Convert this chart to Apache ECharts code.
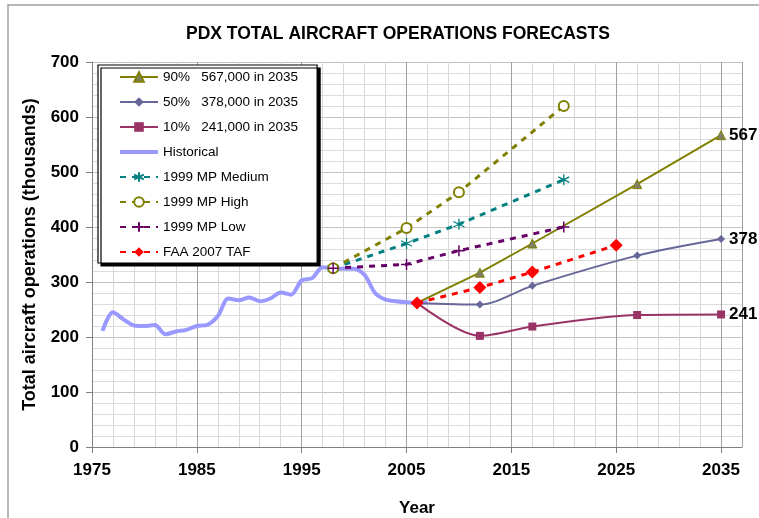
<!DOCTYPE html>
<html>
<head>
<meta charset="utf-8">
<script src="https://cdn.jsdelivr.net/npm/echarts@6/dist/echarts.min.js"></script>
<style>
  html, body { margin: 0; padding: 0; background: #fff; }
  #chart { width: 759px; height: 518px; }
</style>
</head>
<body>
<div id="chart"></div>
<script>
// historical (thousands)
const histYears = [1976,1977,1978,1979,1980,1981,1982,1983,1984,1985,1986,1987,1988,1989,1990,1991,
  1992,1993,1994,1995,1996,1997,1998,1999,2000,2001,2002,2003,2004,2005,2006,2007];
const histOps = [211,245,232,221,220,222,205,210,213,220,222,238,270,267,272,265,
  270,281,277,303,307,327,325,324,324,313,280,268,265,263,262,263];

// 2006 forecasts
const fcYears = [2006, 2012, 2017, 2027, 2035];
const fc90 = [262, 317, 370, 478, 567];
const fc50 = [262, 259, 293, 348, 378];
const fc10 = [262, 202, 219, 240, 241];

// 1999 master plan
const mpYears = [1998, 2005, 2010, 2020];
const mpMedium = [325, 370, 405, 486];
const mpHigh = [325, 398, 463, 620];
const mpLow = [325, 332, 357, 400];

// FAA TAF
const tafYears = [2006, 2012, 2017, 2025];
const tafOps = [262, 290, 318, 367];

const font = "'Liberation Sans', Arial, sans-serif";

function pairs(xs, ys, hideFirst) {
  return xs.map((x, i) => (hideFirst && i === 0) ? { value: [x, ys[i]], symbol: 'none' } : [x, ys[i]]);
}

const plusPath = 'path://M0,5 L10,5 M5,0 L5,10';
const starPath = 'path://M5,0 L5,10 M0.7,2.5 L9.3,7.5 M0.7,7.5 L9.3,2.5';
const barIcon = 'path://M0,0 H38 V4 H0 Z';

let myChart = echarts.init(document.getElementById('chart'));

var option = {
  animation: false,
  title: {
    text: 'PDX TOTAL AIRCRAFT OPERATIONS FORECASTS',
    left: 181,
    top: 20,
    textStyle: { fontFamily: font, fontSize: 17.5, fontWeight: 'bold', color: '#000' }
  },
  legend: {
    orient: 'vertical',
    left: 98,
    top: 65,
    padding: [5, 19, 4, 21],
    itemWidth: 38,
    itemHeight: 12,
    itemGap: 11,
    backgroundColor: '#fff',
    borderColor: '#000',
    borderWidth: 1.2,
    shadowColor: '#000',
    shadowOffsetX: 3,
    shadowOffsetY: 3,
    shadowBlur: 0,
    textStyle: { fontFamily: font, fontSize: 13.5, color: '#000' },
    data: ['90%   567,000 in 2035', '50%   378,000 in 2035', '10%   241,000 in 2035',
      { name: 'Historical', icon: barIcon },
      '1999 MP Medium', '1999 MP High', '1999 MP Low', 'FAA 2007 TAF']
  },
  graphic: [{
    type: 'rect',
    shape: { x: 8, y: 5, width: 770, height: 530 },
    style: { fill: 'none', stroke: '#a0a0a0', lineWidth: 1.5 },
    silent: true
  }],
  grid: { left: 92, right: 17, top: 62, bottom: 71, outerBoundsMode: 'none' },
  xAxis: {
    type: 'value',
    min: 1975,
    max: 2037,
    interval: 10,
    name: 'Year',
    nameLocation: 'middle',
    nameGap: 53,
    nameTextStyle: { fontFamily: font, fontSize: 17, fontWeight: 'bold', color: '#000' },
    axisLine: { onZero: false, lineStyle: { color: '#808080', width: 1 } },
    axisTick: { show: true, length: 6, lineStyle: { color: '#808080' } },
    axisLabel: {
      fontFamily: font, fontSize: 17, fontWeight: 'bold', color: '#000', margin: 15,
      showMaxLabel: false,
      formatter: v => String(v)
    },
    splitLine: { show: true, lineStyle: { color: '#a0a0a0', width: 1 } },
    minorTick: { show: false, splitNumber: 5 },
    minorSplitLine: { show: true, lineStyle: { color: '#d8d8d8', width: 1 } }
  },
  yAxis: {
    type: 'value',
    min: 0,
    max: 700,
    interval: 100,
    name: 'Total aircraft operations (thousands)',
    nameLocation: 'middle',
    nameGap: 53,
    nameTextStyle: { fontFamily: font, fontSize: 18, fontWeight: 'bold', color: '#000' },
    axisLine: { show: true, lineStyle: { color: '#808080', width: 1 } },
    axisTick: { show: true, length: 6, lineStyle: { color: '#808080' } },
    axisLabel: { fontFamily: font, fontSize: 17, fontWeight: 'bold', color: '#000', margin: 13 },
    splitLine: { show: true, lineStyle: { color: '#c4c4c4', width: 1 } },
    minorTick: { show: false, splitNumber: 5 },
    minorSplitLine: { show: true, lineStyle: { color: '#dcdcdc', width: 1 } }
  },
  series: [
    {
      name: '90%   567,000 in 2035',
      type: 'line',
      data: pairs(fcYears, fc90, true),
      symbol: 'triangle',
      symbolSize: 9,
      lineStyle: { color: '#808000', width: 2 },
      itemStyle: { color: '#7f7f66', borderColor: '#808000', borderWidth: 1 },
      endLabel: { show: true, distance: 8, formatter: p => p.value[1],
        fontFamily: font, fontSize: 17, fontWeight: 'bold', color: '#000' },
      z: 3
    },
    {
      name: '50%   378,000 in 2035',
      type: 'line',
      data: pairs(fcYears, fc50, true),
      smooth: 0.3,
      symbol: 'diamond',
      symbolSize: 8,
      lineStyle: { color: '#666699', width: 2 },
      itemStyle: { color: '#666699' },
      endLabel: { show: true, distance: 8, formatter: p => p.value[1],
        fontFamily: font, fontSize: 17, fontWeight: 'bold', color: '#000' },
      z: 3
    },
    {
      name: '10%   241,000 in 2035',
      type: 'line',
      data: pairs(fcYears, fc10, true),
      smooth: 0.3,
      symbol: 'rect',
      symbolSize: 8,
      lineStyle: { color: '#993366', width: 2 },
      itemStyle: { color: '#993366' },
      endLabel: { show: true, distance: 8, formatter: p => p.value[1],
        fontFamily: font, fontSize: 17, fontWeight: 'bold', color: '#000' },
      z: 3
    },
    {
      name: 'Historical',
      type: 'line',
      data: pairs(histYears, histOps, false),
      smooth: 0.3,
      showSymbol: false,
      symbol: 'none',
      lineStyle: { color: '#9999ff', width: 4 },
      itemStyle: { color: '#9999ff' },
      z: 2
    },
    {
      name: '1999 MP Medium',
      type: 'line',
      data: pairs(mpYears, mpMedium, false),
      symbol: starPath,
      symbolSize: 11,
      lineStyle: { color: '#008080', width: 3, type: [6, 6] },
      itemStyle: { color: '#008080', borderColor: '#008080', borderWidth: 1.3 },
      z: 3
    },
    {
      name: '1999 MP High',
      type: 'line',
      data: pairs(mpYears, mpHigh, false),
      symbol: 'emptyCircle',
      symbolSize: 10,
      lineStyle: { color: '#808000', width: 3, type: [6, 6] },
      itemStyle: { color: '#808000', borderColor: '#808000', borderWidth: 1.3 },
      z: 3
    },
    {
      name: '1999 MP Low',
      type: 'line',
      data: pairs(mpYears, mpLow, false),
      symbol: plusPath,
      symbolSize: 11,
      lineStyle: { color: '#660066', width: 3, type: [6, 6] },
      itemStyle: { color: '#660066', borderColor: '#660066', borderWidth: 1.5 },
      z: 3
    },
    {
      name: 'FAA 2007 TAF',
      type: 'line',
      data: pairs(tafYears, tafOps, false),
      symbol: 'diamond',
      symbolSize: 13,
      lineStyle: { color: '#ff0000', width: 3, type: [6, 6] },
      itemStyle: { color: '#ff0000' },
      z: 4
    }
  ]
};

myChart.setOption(option);

window.addEventListener('resize', () => {
  myChart.resize();
});
</script>
</body>
</html>
